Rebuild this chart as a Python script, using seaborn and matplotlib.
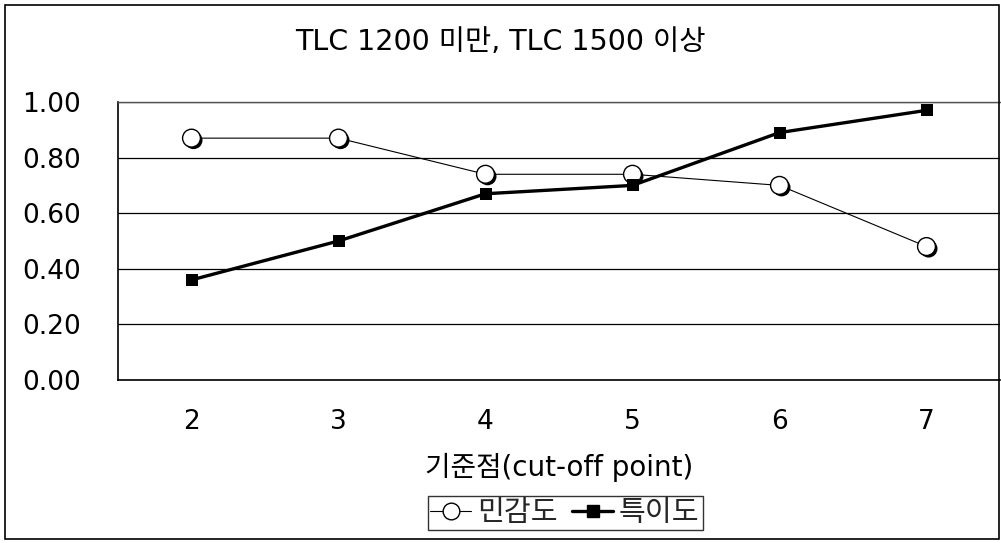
import matplotlib
matplotlib.use("Agg")
import matplotlib.pyplot as plt
import matplotlib.patheffects as pe
from matplotlib.lines import Line2D
from matplotlib.patches import Rectangle
import pandas as pd
import seaborn as sns

# cut-off points and the two rates
cutoffs = [2, 3, 4, 5, 6, 7]
sensitivity = [0.87, 0.87, 0.74, 0.74, 0.70, 0.48]
specificity = [0.36, 0.50, 0.67, 0.70, 0.89, 0.97]
series_names = ["민감도", "특이도"]
y_ticks = [0.0, 0.2, 0.4, 0.6, 0.8, 1.0]
title_text = "TLC 1200 미만, TLC 1500 이상"
xlabel_text = "기준점(cut-off point)"

df = pd.DataFrame({
    "cutoff": cutoffs * 2,
    "value": sensitivity + specificity,
    "series": [series_names[0]] * len(cutoffs) + [series_names[1]] * len(cutoffs),
})

sns.set_theme(style="white")
plt.rcParams["font.family"] = ["DejaVu Sans", "Noto Sans CJK KR"]

FS = 19

fig = plt.figure(figsize=(10.01, 5.43), dpi=100)
ax = fig.add_axes([118 / 1001, 1 - 380 / 543, 882 / 1001, 278 / 543])

sens_df = df[df["series"] == series_names[0]]
spec_df = df[df["series"] == series_names[1]]

# connecting lines
sns.lineplot(data=sens_df, x="cutoff", y="value", ax=ax, color="black",
             linewidth=0.8, legend=False, zorder=3)
sns.lineplot(data=spec_df, x="cutoff", y="value", ax=ax, color="black",
             linewidth=2.4, legend=False, zorder=3)

# markers: open circles with a drop shadow, filled squares
shadow = [pe.SimplePatchShadow(offset=(1.5, -1.5), shadow_rgbFace="black", alpha=1.0), pe.Normal()]
sns.scatterplot(data=sens_df, x="cutoff", y="value", ax=ax, marker="o", s=165,
                facecolor="white", edgecolor="black", linewidth=1.0, zorder=4,
                legend=False).collections[-1].set_path_effects(shadow)
sns.scatterplot(data=spec_df, x="cutoff", y="value", ax=ax, marker="s", s=85,
                color="black", edgecolor="black", linewidth=0, zorder=5, legend=False)

ax.set_xlim(1.5, 7.5)
ax.set_ylim(0, 1.0)
ax.set_yticks(y_ticks)
ax.set_yticklabels([f"{v:.2f}" for v in y_ticks])
ax.set_xticks(cutoffs)
ax.set_xticklabels([str(c) for c in cutoffs])
ax.set_xticks([c + 0.5 for c in cutoffs[:-1]], minor=True)
ax.tick_params(axis="x", which="major", length=0, pad=21, labelsize=FS, colors="black")
ax.tick_params(axis="x", which="minor", direction="in", length=10, width=1, color="black")
ax.tick_params(axis="y", which="major", direction="in", length=9, width=1, color="black",
               pad=27, labelsize=FS, labelcolor="black")

ax.grid(axis="y", color="black", linewidth=0.9)
ax.set_axisbelow(True)
for side in ["left", "bottom"]:
    ax.spines[side].set_color("black")
    ax.spines[side].set_linewidth(1.2)
ax.spines["top"].set_color("#555555")
ax.spines["top"].set_linewidth(1.0)
ax.spines["right"].set_visible(False)

ax.set_xlabel(xlabel_text, fontsize=20, color="black", labelpad=13)
ax.set_ylabel("")
fig.text(0.5, 1 - 42 / 543, title_text, ha="center", va="center", fontsize=20.5, color="black")

# legend
handles = [
    Line2D([], [], color="black", linewidth=0.8, marker="o", markersize=12,
           markerfacecolor="white", markeredgecolor="black"),
    Line2D([], [], color="black", linewidth=2.4, marker="s", markersize=9,
           markerfacecolor="black", markeredgecolor="black"),
]
leg = fig.legend(handles, series_names, loc="center", bbox_to_anchor=(565 / 1001, 1 - 513 / 543),
                 ncol=2, frameon=True, fontsize=21, handlelength=1.4, handletextpad=0.2,
                 columnspacing=0.5, borderpad=0.1, borderaxespad=0, fancybox=False)
leg.get_frame().set_edgecolor("black")
leg.get_frame().set_linewidth(1.0)

# outer frame of the chart
fig.patches.append(Rectangle((5 / 1001, 4 / 543), 994 / 1001, 534 / 543, transform=fig.transFigure,
                             fill=False, edgecolor="black", linewidth=1.2))

fig.savefig("out.png", dpi=100)
